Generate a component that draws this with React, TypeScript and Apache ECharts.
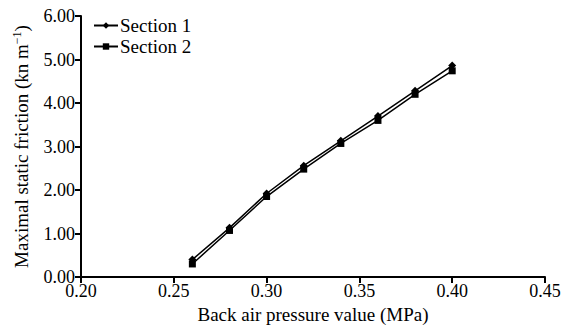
import React, { useEffect, useRef } from "react";
import * as echarts from "echarts";

const pressure = [0.26, 0.28, 0.3, 0.32, 0.34, 0.36, 0.38, 0.4];
const section1 = [0.4, 1.13, 1.92, 2.56, 3.13, 3.7, 4.28, 4.86];
const section2 = [0.3, 1.07, 1.85, 2.48, 3.07, 3.6, 4.2, 4.74];
const seriesNames = ["Section 1", "Section 2"];

const FONT = "'Liberation Serif', 'Times New Roman', serif";

export default function App() {
  const ref = useRef<HTMLDivElement>(null);
  useEffect(() => {
    if (!ref.current) return;
    const chart = echarts.init(ref.current, undefined, { renderer: "svg" });
    const mk = (name: string, vals: number[], symbol: string, size: number) => ({
      name,
      type: "line",
      data: pressure.map((p, i) => [p, vals[i]]),
      symbol,
      symbolSize: size,
      lineStyle: { color: "#000", width: 1.5 },
      itemStyle: { color: "#000" },
    });
    chart.setOption({
      animation: false,
      backgroundColor: "#fff",
      textStyle: { fontFamily: FONT, color: "#000" },
      grid: { left: 81, right: 19, top: 16, bottom: 50, outerBoundsMode: "none", containLabel: false },
      legend: {
        orient: "vertical",
        left: 88,
        top: 11,
        itemWidth: 24,
        itemHeight: 8,
        itemGap: 2,
        textStyle: { fontFamily: FONT, fontSize: 19, lineHeight: 19, color: "#000", padding: [0, 0, 0, -3] },
        data: seriesNames,
      },
      xAxis: {
        type: "value",
        min: 0.2,
        max: 0.45,
        interval: 0.05,
        name: "Back air pressure value (MPa)",
        nameLocation: "middle",
        nameGap: 24,
        nameTextStyle: { fontFamily: FONT, fontSize: 19, color: "#000" },
        axisLine: { lineStyle: { color: "#000", width: 2 } },
        axisTick: { show: true, length: 6, lineStyle: { color: "#000", width: 2 } },
        axisLabel: {
          fontFamily: FONT,
          fontSize: 18,
          color: "#000",
          margin: 5,
          formatter: (v: number) => v.toFixed(2),
        },
        splitLine: { show: false },
      },
      yAxis: {
        type: "value",
        min: 0,
        max: 6,
        interval: 1,
        name: "Maximal static friction (kn m{sup|−1})",
        nameLocation: "middle",
        nameGap: 50,
        nameTextStyle: {
          fontFamily: FONT,
          fontSize: 19,
          color: "#000",
          rich: { sup: { fontFamily: FONT, fontSize: 12, verticalAlign: "top", padding: [0, 0, 8, 0] } },
        },
        axisLine: { show: true, lineStyle: { color: "#000", width: 2 } },
        axisTick: { show: true, length: 6, lineStyle: { color: "#000", width: 2 } },
        axisLabel: {
          fontFamily: FONT,
          fontSize: 18,
          color: "#000",
          margin: 6,
          formatter: (v: number) => v.toFixed(2),
        },
        splitLine: { show: false },
      },
      series: [
        mk(seriesNames[0], section1, "diamond", 8),
        mk(seriesNames[1], section2, "rect", 7),
      ],
    });
    return () => chart.dispose();
  }, []);
  return <div ref={ref} style={{ width: 564, height: 327, position: "absolute", left: 0, top: 0 }} />;
}
